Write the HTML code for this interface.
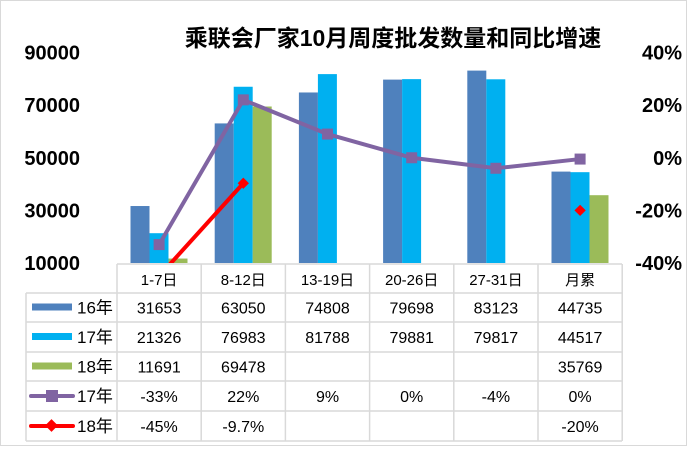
<!DOCTYPE html>
<html><head><meta charset="utf-8"><style>
body{margin:0;background:#fff;}
svg text{font-family:"Liberation Sans","Noto Sans CJK SC",sans-serif;}
</style></head><body>
<svg width="687" height="446" viewBox="0 0 687 446" xmlns="http://www.w3.org/2000/svg">
<rect x="0.5" y="0.5" width="686" height="445" fill="#fff" stroke="#d9d9d9"/>
<text x="393" y="46" text-anchor="middle" font-size="23" font-weight="bold" fill="#000">乘联会厂家10月周度批发数量和同比增速</text>
<g id="axes"></g>
<g id="table"></g>
<g id="bars"></g>
<g id="lines"></g>
</svg>
<script>
const categories=["1-7日","8-12日","13-19日","20-26日","27-31日","月累"];
const s16=[31653,63050,74808,79698,83123,44735];
const s17=[21326,76983,81788,79881,79817,44517];
const s18=[11691,69478,null,null,null,35769];
const g17=[-33,22,9,0,-4,-0.5];
const g17Labels=["-33%","22%","9%","0%","-4%","0%"];
const g18=[-45,-9.7,null,null,null,-20];
const g18Labels=["-45%","-9.7%","","","","-20%"];
const leftTicks=[10000,30000,50000,70000,90000];
const rightTicks=[-40,-20,0,20,40];

const NS="http://www.w3.org/2000/svg";
const x0=117,cw=84.2,yBase=263,yTop=52.5;
const yL=v=>yBase-(v-10000)/80000*(yBase-yTop);
const yR=v=>yBase-(v+40)/80*(yBase-yTop);
const cx=i=>x0+i*cw+cw/2;
function mk(tag,attrs,parent,text){const e=document.createElementNS(NS,tag);for(const k in attrs)e.setAttribute(k,attrs[k]);if(text!=null)e.textContent=text;parent.appendChild(e);return e;}
const axes=document.getElementById('axes'),table=document.getElementById('table'),bars=document.getElementById('bars'),lines=document.getElementById('lines');
leftTicks.forEach(t=>{const e=mk('text',{x:80,y:yL(t)+7,'text-anchor':'end','font-size':20,'font-weight':'bold'},axes,String(t));

});
rightTicks.forEach(t=>{const e=mk('text',{x:682,y:yR(t)+7,'text-anchor':'end','font-size':20,'font-weight':'bold'},axes,t+'%');

});
// table grid
const rowsY=[264,293,322,352,381,411,441];
const gridC='#d9d9d9';
for(let r=0;r<rowsY.length;r++){const xs=r==0?x0:26;const e=mk('line',{x1:xs,x2:622,y1:rowsY[r],y2:rowsY[r],stroke:gridC,'stroke-width':1.5},table);

}
mk('line',{x1:26,x2:26,y1:293,y2:441,stroke:gridC,'stroke-width':1.5},table);
for(let i=0;i<=6;i++){const x=x0+i*cw;const e=mk('line',{x1:x,x2:x,y1:264,y2:441,stroke:gridC,'stroke-width':1.5},table);

}
categories.forEach((c,i)=>{const e=mk('text',{x:cx(i),y:285,'text-anchor':'middle','font-size':15},table,c);

});
const series=[{n:'16年',d:s16,c:'#4F81BD',t:'bar'},{n:'17年',d:s17,c:'#00B0F0',t:'bar'},{n:'18年',d:s18,c:'#9BBB59',t:'bar'},{n:'17年',d:g17Labels,c:'#8064A2',t:'sq'},{n:'18年',d:g18Labels,c:'#FF0000',t:'dia'}];
series.forEach((s,r)=>{const ym=(rowsY[r+1]+rowsY[r+2])/2;
if(s.t=='bar'){const k=mk('rect',{x:32,y:ym-4,width:40,height:7,fill:s.c},table);}
else{mk('line',{x1:31,x2:73,y1:ym,y2:ym,stroke:s.c,'stroke-width':4,'stroke-linecap':'round'},table);
if(s.t=='sq')mk('rect',{x:46,y:ym-6,width:12,height:12,fill:s.c},table);else mk('rect',{x:47,y:ym-5,width:9,height:9,fill:s.c,transform:`rotate(45 51.5 ${ym-0.5})`},table);}
const lb=mk('text',{x:77,y:ym+6,'font-size':17},table,s.n);
s.d.forEach((v,i)=>{if(v==null||v==='')return;const e=mk('text',{x:cx(i),y:ym+6,'text-anchor':'middle','font-size':16},table,String(v));

});});
// bars
[[s16,'#4F81BD'],[s17,'#00B0F0'],[s18,'#9BBB59']].forEach(([d,c],k)=>{d.forEach((v,i)=>{if(v==null)return;const x=x0+i*cw+13.5+k*19;const y=yL(v);
const b=mk('rect',{x:x,y:y,width:19,height:yBase-y,fill:c},bars);

});});
// lines
const clip=mk('clipPath',{id:'pc'},lines);mk('rect',{x:x0,y:0,width:6*cw,height:yBase},clip);
function drawLine(d,c,shape){let pts=[];d.forEach((v,i)=>{if(v==null){if(pts.length>1){const p=mk('polyline',{points:pts.join(' '),fill:'none',stroke:c,'stroke-width':4,'clip-path':'url(#pc)'},lines);}pts=[];return;}pts.push(cx(i)+','+yR(v));});
if(pts.length>1){const p=mk('polyline',{points:pts.join(' '),fill:'none',stroke:c,'stroke-width':4,'clip-path':'url(#pc)'},lines);}
d.forEach((v,i)=>{if(v==null)return;const x=cx(i),y=yR(v);if(y>yBase)return;let m;
if(shape=='sq')m=mk('rect',{x:x-5.5,y:y-5.5,width:11,height:11,fill:c},lines);else m=mk('rect',{x:x-4,y:y-4,width:8,height:8,fill:c,transform:`rotate(45 ${x} ${y})`},lines);

});}
drawLine(g17,'#8064A2','sq');drawLine(g18,'#FF0000','dia');
</script>
</body></html>
